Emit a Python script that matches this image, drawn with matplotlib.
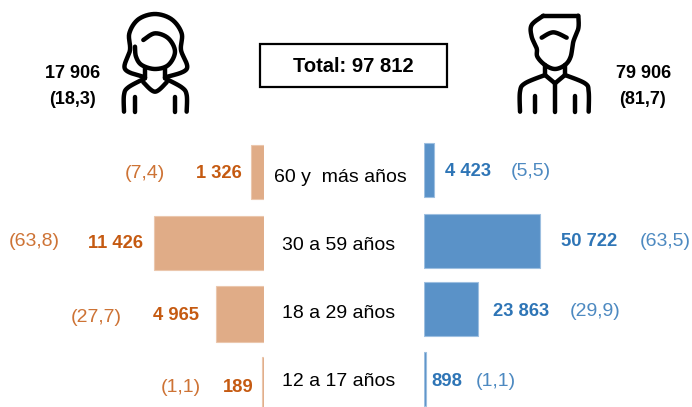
#!/usr/bin/python
import numpy as np
import matplotlib
matplotlib.use("Agg")
import matplotlib.pyplot as plt
from matplotlib.patches import Rectangle

plt.rcParams['font.family'] = ['Liberation Sans', 'DejaVu Sans']

categories = ["60 y  más años", "30 a 59 años", "18 a 29 años", "12 a 17 años"]
mujeres = [1326, 11426, 4965, 189]
hombres = [4423, 50722, 23863, 898]
mujeres_lab = ["1 326", "11 426", "4 965", "189"]
hombres_lab = ["4 423", "50 722", "23 863", "898"]
mujeres_pct = ["(7,4)", "(63,8)", "(27,7)", "(1,1)"]
hombres_pct = ["(5,5)", "(63,5)", "(29,9)", "(1,1)"]
total_lab = "Total: 97 812"
mujeres_tot = ["17 906", "(18,3)"]
hombres_tot = ["79 906", "(81,7)"]

W, H = 692, 407
naranja = '#C55A11'
azul = '#2E75B6'
fs_val = 13.2
fs_pct = 14
fs_cat = 14

fig = plt.figure(figsize=(W / 100, H / 100), dpi=100)

# pixel canvas for text and icons
bg = fig.add_axes([0, 0, 1, 1])
bg.set_xlim(0, W)
bg.set_ylim(H, 0)
bg.axis('off')

# left bars, 110 px = 11426
ax_l = fig.add_axes([0, 0, 264 / W, 1])
ax_l.set_xlim(264 * 11426 / 110.0, 0)
ax_l.set_ylim(H, 0)
ax_l.axis('off')
ax_l.barh([172, 242.5, 314, 382], mujeres, height=[54, 54, 56, 50],
          color='#E0AC87', edgecolor='#EBC7AD', linewidth=0.8)

# right bars, 116.7 px = 50722
ax_r = fig.add_axes([423.5 / W, 0, (W - 423.5) / W, 1])
ax_r.set_xlim(0, (W - 423.5) * 50722 / 116.7)
ax_r.set_ylim(H, 0)
ax_r.axis('off')
ax_r.barh([170, 240.5, 309, 379], hombres, height=[54, 54, 54, 54],
          color='#5A92C8', edgecolor='#9DBFE0', linewidth=0.8)

for s, x, y in zip(mujeres_lab, [219, 115, 176, 238], [174, 244, 315, 387]):
    bg.text(x, y, s, color=naranja, fontsize=fs_val, fontweight='bold', ha='center', va='center')
for s, x, y in zip(mujeres_pct, [145, 34, 96, 181], [173, 241, 317, 387]):
    bg.text(x, y, s, color=naranja, fontsize=fs_pct, alpha=0.85, ha='center', va='center')
for s, x, y in zip(hombres_lab, [468, 589, 521, 447], [172, 241, 311, 381]):
    bg.text(x, y, s, color=azul, fontsize=fs_val, fontweight='bold', ha='center', va='center')
for s, x, y in zip(hombres_pct, [531, 665, 595, 496], [172, 241, 312, 381]):
    bg.text(x, y, s, color=azul, fontsize=fs_pct, alpha=0.85, ha='center', va='center')
for s, x, y in zip(categories, [340, 339, 339, 339], [178, 246, 314, 381]):
    bg.text(x, y, s, color='black', fontsize=fs_cat, ha='center', va='center')

# total box
bg.add_patch(Rectangle((260, 44), 187, 43, fill=False, edgecolor='black', linewidth=1.6))
bg.text(353, 66, total_lab, fontsize=14.5, fontweight='bold', ha='center', va='center')

bg.text(73, 73, mujeres_tot[0], fontsize=13, fontweight='bold', ha='center', va='center')
bg.text(72, 99, mujeres_tot[1], fontsize=13, fontweight='bold', ha='center', va='center')
bg.text(644, 74, hombres_tot[0], fontsize=13, fontweight='bold', ha='center', va='center')
bg.text(643, 100, hombres_tot[1], fontsize=13, fontweight='bold', ha='center', va='center')


def trazo(pts, ox=0):
    # smooth stroke through points given in 3x zoom coordinates
    pts = np.array(pts, dtype=float)
    if len(pts) > 2:
        tt = np.linspace(0, len(pts) - 1, 25 * len(pts))
        xs, ys = [], []
        for v in tt:
            i = min(int(v), len(pts) - 2)
            f = v - i
            p0 = pts[max(i - 1, 0)]
            p1 = pts[i]
            p2 = pts[i + 1]
            p3 = pts[min(i + 2, len(pts) - 1)]
            q = 0.5 * (2 * p1 + (p2 - p0) * f + (2 * p0 - 5 * p1 + 4 * p2 - p3) * f ** 2
                       + (3 * p1 - p0 - 3 * p2 + p3) * f ** 3)
            xs.append(q[0])
            ys.append(q[1])
    else:
        xs, ys = pts[:, 0], pts[:, 1]
    bg.plot(np.array(xs) / 3.0 + ox, np.array(ys) / 3.0, color='black', lw=3.2,
            solid_capstyle='round', solid_joinstyle='round')


# woman icon
trazo([(435, 232), (375, 207), (390, 150), (388, 100), (415, 58), (465, 42), (515, 58), (545, 100), (543, 150), (560, 207), (495, 232)])
trazo([(430, 120), (465, 100), (505, 115), (525, 155), (505, 195), (465, 207), (425, 195), (408, 170), (405, 140)])
trazo([(435, 205), (435, 235)])
trazo([(495, 205), (495, 235)])
trazo([(430, 247), (465, 275), (500, 247)])
trazo([(435, 235), (385, 262), (372, 285), (372, 335)])
trazo([(495, 235), (545, 262), (560, 285), (560, 335)])
trazo([(405, 292), (405, 335)])
trazo([(525, 292), (525, 335)])

# man icon
trazo([(535, 47), (430, 47)], 400)
trazo([(430, 47), (395, 75), (395, 110), (410, 145), (412, 170), (435, 195), (465, 207), (495, 195), (512, 170), (520, 125), (535, 85), (535, 47)], 400)
trazo([(425, 113), (460, 97), (500, 113)], 400)
trazo([(435, 195), (435, 225)], 400)
trazo([(495, 195), (495, 225)], 400)
trazo([(435, 225), (465, 250)], 400)
trazo([(495, 225), (465, 250)], 400)
trazo([(465, 250), (465, 335)], 400)
trazo([(435, 225), (375, 250), (360, 275), (360, 335)], 400)
trazo([(495, 225), (555, 250), (566, 275), (566, 335)], 400)
trazo([(405, 287), (405, 335)], 400)
trazo([(525, 287), (525, 335)], 400)

plt.savefig("out.png", dpi=100)
